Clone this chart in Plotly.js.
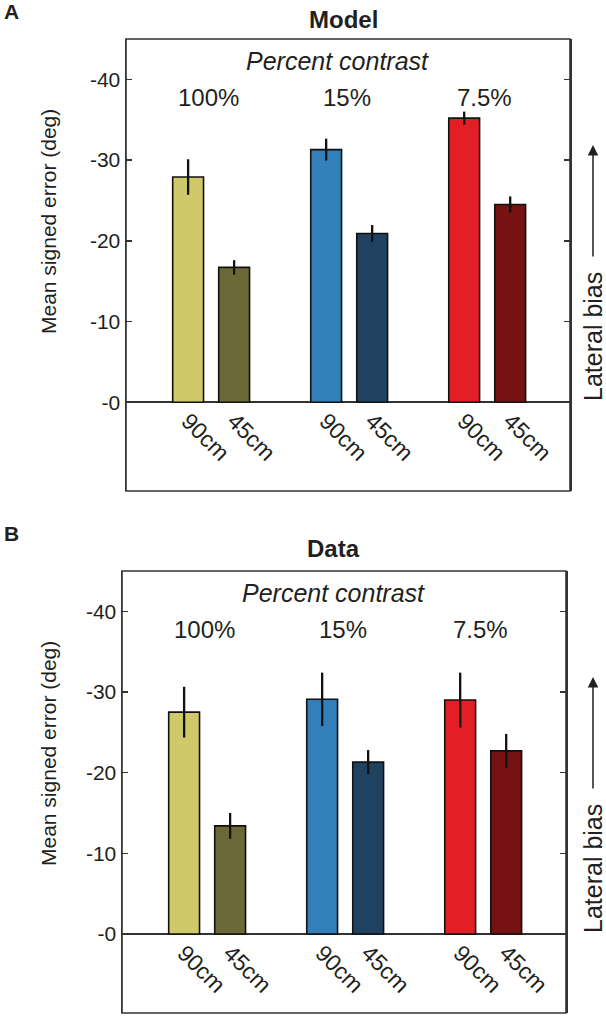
<!DOCTYPE html>
<html>
<head>
<meta charset="utf-8">
<script src="https://cdn.plot.ly/plotly-3.0.1.min.js"></script>
<style>html,body{margin:0;padding:0;background:#fff;}#chart{width:606px;height:1016px;}</style>
</head>
<body>
<div id="chart"></div>
<script>
// ---- data ----
const contrasts = ['100%', '15%', '7.5%'];
const distances = ['90cm', '45cm'];
const yTickVals = [0, -10, -20, -30, -40];
const yTickText = ['-0', '-10', '-20', '-30', '-40'];

const modelMean90 = [-27.9, -31.3, -35.2];
const modelMean45 = [-16.7, -20.9, -24.5];
const modelErr90  = [2.2, 1.35, 0.8];
const modelErr45  = [0.9, 1.05, 1.0];

const dataMean90 = [-27.5, -29.1, -29.0];
const dataMean45 = [-13.4, -21.3, -22.7];
const dataErr90  = [3.15, 3.3, 3.4];
const dataErr45  = [1.6, 1.5, 2.1];

// ---- style ----
const colors90 = ['#d0c96a', '#337fba', '#e21f27'];
const colors45 = ['#6b6937', '#1e4260', '#761114'];
const W = 606, H = 1016;
const FONT = 'Liberation Sans, Arial, Helvetica, sans-serif';
const INK = '#231f20';
const px = x => x / W;
const py = y => 1 - y / H;

function positions() {
  const xs = [];
  contrasts.forEach((c, i) => { xs.push(3 * i + 1, 3 * i + 2); });
  return xs;
}
function interleave(a, b) {
  const out = [];
  a.forEach((v, i) => { out.push(v, b[i]); });
  return out;
}
const xs = positions();
const barColors = interleave(colors90, colors45);
const tickLabels = contrasts.flatMap(() => distances);

function barTrace(m90, m45, e90, e45, xa, ya) {
  return {
    type: 'bar', x: xs, y: interleave(m90, m45), xaxis: xa, yaxis: ya,
    width: 0.67,
    marker: { color: barColors, line: { color: '#111', width: 1.6 } },
    error_y: { type: 'data', array: interleave(e90, e45), visible: true, color: '#111', thickness: 2.3, width: 0 },
    hoverinfo: 'skip'
  };
}

const traces = [
  barTrace(modelMean90, modelMean45, modelErr90, modelErr45, 'x', 'y'),
  barTrace(dataMean90, dataMean45, dataErr90, dataErr45, 'x2', 'y2')
];

function xAxis(dom, zeroY) {
  return {
    domain: dom, range: [-0.35, 9.3], anchor: 'free', position: py(zeroY),
    tickvals: xs, ticktext: tickLabels, tickangle: 45, ticks: '',
    showline: false, showgrid: false, zeroline: false,
    tickfont: { size: 23, color: INK, family: FONT }, fixedrange: true
  };
}
function yAxis(dom, range, anchor) {
  return {
    domain: dom, range: range, anchor: anchor,
    tickvals: yTickVals, ticktext: yTickText,
    ticks: 'inside', ticklen: 6, tickwidth: 1.5, tickcolor: '#333',
    showline: true, mirror: 'ticks', linecolor: '#333', linewidth: 1.5,
    zeroline: true, zerolinecolor: '#333', zerolinewidth: 1.5,
    showgrid: false, tickfont: { size: 21, color: INK, family: FONT }, fixedrange: true
  };
}

const panels = [
  { letter: 'A', title: 'Model', xa: 'x', ya: 'y', top: 39, bottom: 491, zero: 402, left: 126, right: 570,
    letterY: 12, titleX: 343, titleY: 20 },
  { letter: 'B', title: 'Data', xa: 'x2', ya: 'y2', top: 571, bottom: 1013, zero: 934, left: 122, right: 566,
    letterY: 533, titleX: 333, titleY: 548 }
];

const annotations = [];
const shapes = [];
panels.forEach((p) => {
  annotations.push({ xref: 'paper', yref: 'paper', x: px(11), y: py(p.letterY), text: '<b>' + p.letter + '</b>',
    showarrow: false, font: { size: 21, family: FONT, color: INK }, xanchor: 'center', yanchor: 'middle' });
  annotations.push({ xref: 'paper', yref: 'paper', x: px(p.titleX), y: py(p.titleY), text: '<b>' + p.title + '</b>',
    showarrow: false, font: { size: 24, family: FONT, color: INK }, xanchor: 'center', yanchor: 'middle' });
  annotations.push({ xref: p.xa, yref: p.ya, x: 4.25, y: -42.3, text: '<i>Percent contrast</i>',
    showarrow: false, font: { size: 25, family: FONT, color: INK }, xanchor: 'center', yanchor: 'middle' });
  contrasts.forEach((c, i) => {
    annotations.push({ xref: p.xa, yref: p.ya, x: 3 * i + 1.45, y: -37.8, text: c,
      showarrow: false, font: { size: 24, family: FONT, color: INK }, xanchor: 'center', yanchor: 'middle' });
  });
  annotations.push({ xref: 'paper', yref: 'paper', x: px(48), y: py(p.zero - 180), text: 'Mean signed error (deg)',
    textangle: -90, showarrow: false, font: { size: 21, family: FONT, color: INK }, xanchor: 'center', yanchor: 'middle' });
  annotations.push({ xref: 'paper', yref: 'paper', x: px(593), y: py(p.zero - 65), text: 'Lateral bias',
    textangle: -90, showarrow: false, font: { size: 25, family: FONT, color: INK }, xanchor: 'center', yanchor: 'middle' });
  annotations.push({ xref: 'paper', yref: 'paper', x: px(593), y: py(p.zero - 257), text: '',
    showarrow: true, ax: 0, ay: 113, axref: 'pixel', ayref: 'pixel', arrowhead: 2, arrowsize: 1.4, arrowwidth: 1.5,
    arrowcolor: INK, standoff: 0, startstandoff: 0 });
  shapes.push({ type: 'rect', xref: p.xa + ' domain', yref: p.ya + ' domain', x0: 0, x1: 1, y0: 0, y1: 1,
    line: { color: '#333', width: 1.6 }, fillcolor: 'rgba(0,0,0,0)' });
});

const layout = {
  width: W, height: H, margin: { l: 0, r: 0, t: 0, b: 0 },
  paper_bgcolor: '#fff', plot_bgcolor: '#fff', showlegend: false,
  font: { family: FONT, size: 21, color: INK },
  xaxis: xAxis([px(panels[0].left), px(panels[0].right)], panels[0].zero),
  yaxis: yAxis([py(panels[0].bottom), py(panels[0].top)], [11, -45], 'x'),
  xaxis2: xAxis([px(panels[1].left), px(panels[1].right)], panels[1].zero),
  yaxis2: yAxis([py(panels[1].bottom), py(panels[1].top)], [9.8, -45], 'x2'),
  annotations: annotations, shapes: shapes
};

Plotly.newPlot('chart', traces, layout, { staticPlot: true, displayModeBar: false });
</script>
</body>
</html>
